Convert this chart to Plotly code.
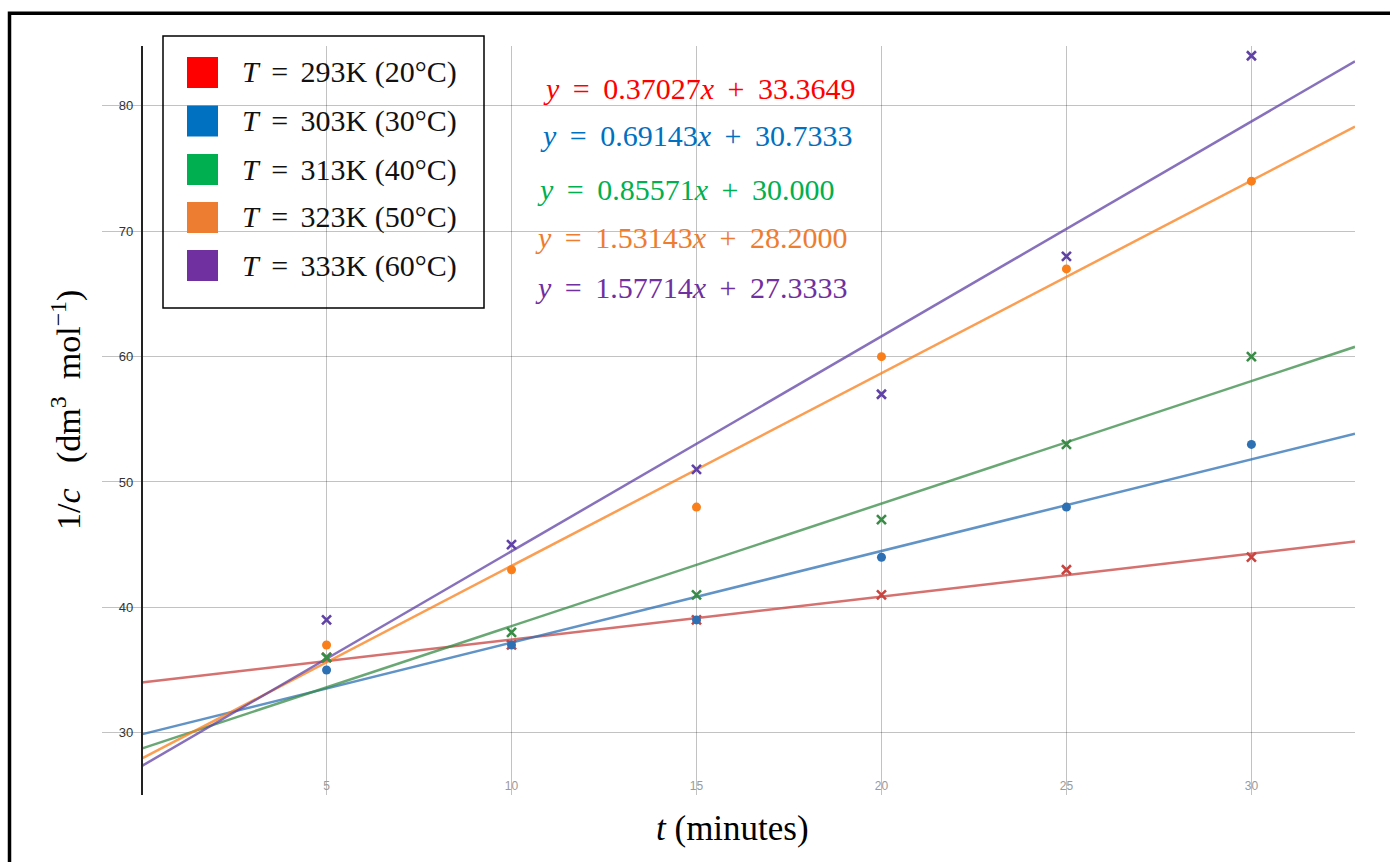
import numpy as np
import plotly.graph_objects as go

# ---------------- data ----------------
t_minutes = [5, 10, 15, 20, 25, 30]
inv_c_293 = [36, 37, 39, 41, 43, 44]
inv_c_303 = [35, 37, 39, 44, 48, 53]
inv_c_313 = [36, 38, 41, 47, 53, 60]
inv_c_323 = [37, 43, 48, 60, 67, 74]
inv_c_333 = [39, 45, 51, 57, 68, 84]

series_values = [inv_c_293, inv_c_303, inv_c_313, inv_c_323, inv_c_333]
SP_L = "\u2006"   # small space (legend)
SP_E = "\u2009"   # thin space (equations)
legend_labels = [
    f"<i>T</i> {SP_L}={SP_L} 293K (20°C)",
    f"<i>T</i> {SP_L}={SP_L} 303K (30°C)",
    f"<i>T</i> {SP_L}={SP_L} 313K (40°C)",
    f"<i>T</i> {SP_L}={SP_L} 323K (50°C)",
    f"<i>T</i> {SP_L}={SP_L} 333K (60°C)",
]
equation_labels = [
    f"<i>y</i> {SP_E}={SP_E} 0.37027<i>x</i> {SP_E}+{SP_E} 33.3649",
    f"<i>y</i> {SP_E}={SP_E} 0.69143<i>x</i> {SP_E}+{SP_E} 30.7333",
    f"<i>y</i> {SP_E}={SP_E} 0.85571<i>x</i> {SP_E}+{SP_E} 30.000",
    f"<i>y</i> {SP_E}={SP_E} 1.53143<i>x</i> {SP_E}+{SP_E} 28.2000",
    f"<i>y</i> {SP_E}={SP_E} 1.57714<i>x</i> {SP_E}+{SP_E} 27.3333",
]
x_tick_values = [5, 10, 15, 20, 25, 30]
y_tick_values = [30, 40, 50, 60, 70, 80]

# ---------------- styles ----------------
marker_colors = ["#c74440", "#2d70b3", "#388c46", "#fa7e19", "#6042a6"]
marker_symbols = ["x-thin", "circle", "x-thin", "circle", "x-thin"]
text_colors = ["#FF0000", "#0070C0", "#00B050", "#ED7D31", "#7030A0"]
X_RANGE = [-1.07, 32.8]
Y_RANGE = [25.03, 84.78]
SERIF = "Liberation Serif, Times New Roman, serif"
SANS = "Liberation Sans, Arial, sans-serif"

W, H = 1390, 862
L, R, T, B = 102, 1355, 46, 795


def fx(p):
    return (p - L) / (R - L)


def fy(p):
    return (B - p) / (B - T)


fig = go.Figure()

# regression lines from the data
for vals, col in zip(series_values, marker_colors):
    slope, intercept = np.polyfit(t_minutes, vals, 1)
    xs = np.array([0.0, X_RANGE[1]])
    fig.add_trace(go.Scatter(
        x=xs, y=slope * xs + intercept, mode="lines",
        line=dict(color=col, width=2.5), opacity=0.75,
        showlegend=False, hoverinfo="skip"))

# data points
for vals, col, sym in zip(series_values, marker_colors, marker_symbols):
    if sym == "circle":
        mk = dict(symbol="circle", size=9, color=col)
    else:
        mk = dict(symbol="x-thin", size=9, color=col, line=dict(color=col, width=2.6))
    fig.add_trace(go.Scatter(x=t_minutes, y=vals, mode="markers", marker=mk,
                             showlegend=False))

shapes = []
annotations = []

# white boxes behind equations (hide gridlines)
for (x0, y0, x1, y1) in [(518, 58, 879, 106), (505, 106, 885, 161), (509, 161, 872, 322)]:
    shapes.append(dict(type="rect", xref="paper", yref="paper",
                       x0=fx(x0), x1=fx(x1), y0=fy(y1), y1=fy(y0),
                       fillcolor="white", line=dict(width=0), layer="between"))

# legend box
shapes.append(dict(type="rect", xref="paper", yref="paper",
                   x0=fx(163), x1=fx(484), y0=fy(308), y1=fy(36),
                   fillcolor="white", line=dict(color="black", width=1.5), layer="between"))
row_centers = [72.5, 121, 169.5, 217.5, 265.5]
for yc, col, lab in zip(row_centers, text_colors, legend_labels):
    shapes.append(dict(type="rect", xref="paper", yref="paper",
                       x0=fx(187), x1=fx(218), y0=fy(yc + 15.5), y1=fy(yc - 15.5),
                       fillcolor=col, line=dict(width=0), layer="above"))
    annotations.append(dict(xref="paper", yref="paper", x=fx(240), y=fy(yc),
                            xanchor="left", yanchor="middle", text=lab, showarrow=False,
                            font=dict(family=SERIF, size=30, color="#111111")))

# equations
eq_pos = [(699, 88), (696, 135), (686, 190), (691, 238), (691, 287)]
for (xc, yc), col, lab in zip(eq_pos, text_colors, equation_labels):
    annotations.append(dict(xref="paper", yref="paper", x=fx(xc), y=fy(yc),
                            xanchor="center", yanchor="middle", text=lab, showarrow=False,
                            font=dict(family=SERIF, size=30, color=col)))

# axis titles
annotations.append(dict(xref="paper", yref="paper", x=fx(66), y=fy(410),
                        xanchor="center", yanchor="middle", textangle=-90,
                        text="1/<i>c</i>\u2002 (dm<sup>3</sup>\u2002mol<sup>−1</sup>)",
                        showarrow=False,
                        font=dict(family=SERIF, size=34, color="black")))
annotations.append(dict(xref="paper", yref="paper", x=fx(732), y=fy(828),
                        xanchor="center", yanchor="middle",
                        text="<i>t</i>\u2005(minutes)", showarrow=False,
                        font=dict(family=SERIF, size=35, color="black")))

# outer frame
shapes.append(dict(type="rect", xref="paper", yref="paper",
                   x0=fx(9.5), x1=fx(1395), y0=fy(870), y1=fy(13.3),
                   fillcolor="rgba(0,0,0,0)", line=dict(color="black", width=3.5),
                   layer="above"))

fig.update_layout(
    width=W, height=H,
    margin=dict(l=L, r=W - R, t=T, b=H - B),
    paper_bgcolor="white", plot_bgcolor="white",
    shapes=shapes, annotations=annotations,
    showlegend=False,
    xaxis=dict(range=X_RANGE, tickvals=x_tick_values, showgrid=True,
               gridcolor="rgba(0,0,0,0.24)", gridwidth=1, zeroline=False,
               showline=False, ticks="", ticklabelposition="inside",
               tickfont=dict(family=SANS, size=12, color="#9a9a9a")),
    yaxis=dict(range=Y_RANGE, tickvals=y_tick_values, showgrid=True,
               gridcolor="rgba(0,0,0,0.24)", gridwidth=1, zeroline=False,
               anchor="free", position=fx(141.5), showline=True,
               linecolor="#222222", linewidth=1.5, ticks="",
               ticklabelstandoff=5,
               tickfont=dict(family=SANS, size=13, color="#333333")),
)

fig.write_html("out.html",
               config={"displayModeBar": False},
               post_script="document.body.style.margin='0px';"
                           "document.body.style.overflow='hidden';")
